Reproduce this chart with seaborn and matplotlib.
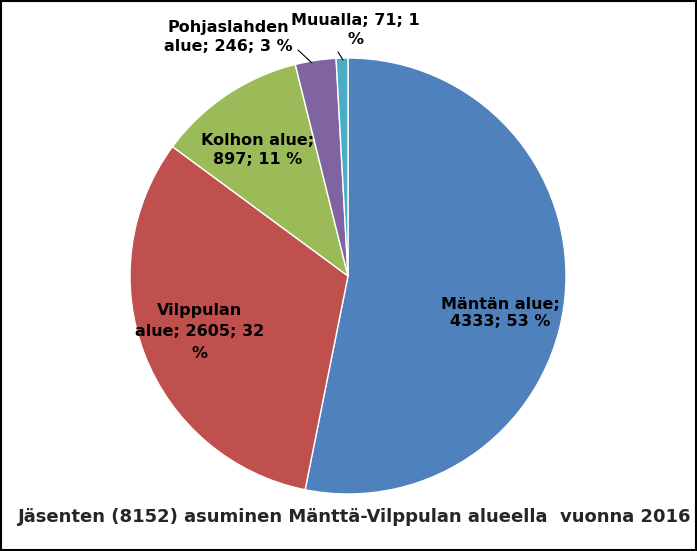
import matplotlib
matplotlib.use("Agg")
import matplotlib.pyplot as plt
import seaborn as sns

categories = ["Mäntän alue", "Vilppulan alue", "Kolhon alue", "Pohjaslahden alue", "Muualla"]
values = [4333, 2605, 897, 246, 71]
percents = [53, 32, 11, 3, 1]
colors = ["#4F81BD", "#C0504D", "#9BBB59", "#8064A2", "#4BACC6"]
title = "Jäsenten (8152) asuminen Mänttä-Vilppulan alueella  vuonna 2016"

sns.set_theme(style="white")
fig = plt.figure(figsize=(6.97, 5.51), dpi=100)
fig.patch.set_facecolor("white")
W, H = 697, 551
cx, cy, r = 348, 276, 218
ax = fig.add_axes([(cx - r) / W, 1 - (cy + r) / H, 2 * r / W, 2 * r / H])
ax.pie(values, colors=colors, startangle=90, counterclock=False,
       wedgeprops=dict(linewidth=1, edgecolor="white"))
ax.set_xlim(-1, 1); ax.set_ylim(-1, 1); ax.set_aspect("equal"); ax.axis("off")

def fx(px): return (px - cx) / r
def fy(py): return (cy - py) / r

fp = dict(fontsize=11.5, fontweight="bold", family="DejaVu Sans", ha="center", va="center", color="black")
ax.text(fx(500), fy(313), f"Mäntän alue;\n{values[0]}; {percents[0]} %", **fp)
ax.text(fx(200), fy(332), f"Vilppulan\nalue; {values[1]}; 32\n%", **fp, linespacing=1.5)
ax.text(fx(258), fy(150), f"Kolhon alue;\n{values[2]}; {percents[2]} %", **fp, linespacing=1.4)
ax.text(fx(228), fy(37), f"Pohjaslahden\nalue; {values[3]}; {percents[3]} %", **fp, linespacing=1.4, clip_on=False)
ax.text(fx(355), fy(30), f"Muualla; {values[4]}; 1\n%", **fp, linespacing=1.4, clip_on=False)
ax.plot([fx(298), fx(312)], [fy(50), fy(63)], color="black", lw=0.8, clip_on=False)
ax.plot([fx(338), fx(343)], [fy(52), fy(60)], color="black", lw=0.8, clip_on=False)

fig.text(18 / W, 1 - 517 / H, title, fontsize=13, fontweight="bold", va="center", ha="left")
fig.add_artist(plt.Rectangle((0.001, 0.001), 0.997, 0.997, transform=fig.transFigure,
                             fill=False, edgecolor="black", lw=1.5))
fig.savefig("out.png", dpi=100)
